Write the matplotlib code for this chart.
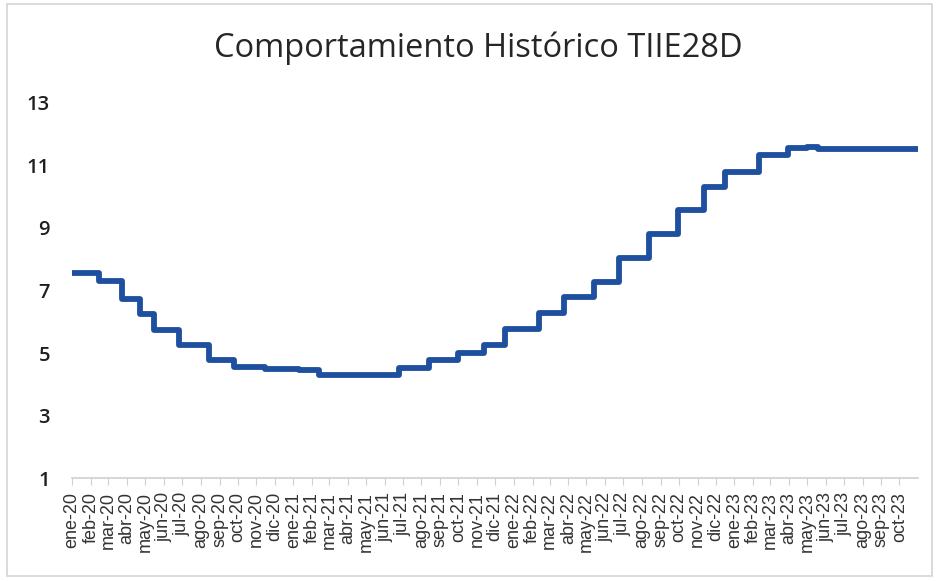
import matplotlib
matplotlib.use("Agg")
import matplotlib.pyplot as plt
from matplotlib.patches import Rectangle
import pandas as pd

# TIIE 28 dias: fecha de cambio y nivel vigente desde esa fecha (lectura de la grafica)
change_dates = ["2020-01-01", "2020-02-14", "2020-03-23", "2020-04-22", "2020-05-15",
                "2020-06-26", "2020-08-14", "2020-09-25", "2020-11-15", "2021-01-10",
                "2021-02-12", "2021-06-25", "2021-08-13", "2021-10-01", "2021-11-12",
                "2021-12-17", "2022-02-11", "2022-03-25", "2022-05-13", "2022-06-24",
                "2022-08-12", "2022-09-30", "2022-11-11", "2022-12-16", "2023-02-10",
                "2023-03-31", "2023-05-01", "2023-05-20", "2023-11-01"]
tiie = [7.56, 7.31, 6.72, 6.26, 5.74,
        5.25, 4.78, 4.56, 4.50, 4.47,
        4.29, 4.53, 4.78, 5.00, 5.26,
        5.76, 6.27, 6.78, 7.28, 8.05,
        8.80, 9.58, 10.30, 10.78, 11.32,
        11.57, 11.60, 11.53, 11.52]

month_names = ["ene", "feb", "mar", "abr", "may", "jun",
               "jul", "ago", "sep", "oct", "nov", "dic"]
tick_start = "2020-01-01"
tick_end = "2023-10-01"
y_ticks = [1, 3, 5, 7, 9, 11, 13]
title = "Comportamiento Histórico TIIE28D"

dates = pd.to_datetime(change_dates)
ticks = pd.date_range(tick_start, tick_end, freq="MS")
tick_labels = ["{}-{}".format(month_names[d.month - 1], str(d.year)[2:]) for d in ticks]

fig = plt.figure(figsize=(9.36, 5.81), dpi=100)
ax = fig.add_axes([0.077, 0.177, 0.904, 0.646])

ax.plot(dates, tiie, drawstyle="steps-post", color="#1f4f9f",
        linewidth=4.2, solid_capstyle="round", solid_joinstyle="round")

ax.set_xlim(pd.Timestamp("2020-01-01"), pd.Timestamp("2023-11-01"))
ax.set_ylim(1, 13)
ax.set_yticks(y_ticks)
ax.set_yticklabels([str(v) for v in y_ticks], fontsize=14.5, color="#1e1e1e",
                   family="Open Sans", fontweight="semibold")
ax.set_xticks(ticks)
ax.set_xticklabels(tick_labels, rotation=90, fontsize=13, color="#333333",
                   family="Liberation Sans")

for side in ["top", "right", "left"]:
    ax.spines[side].set_visible(False)
ax.spines["bottom"].set_color("#d0d0d0")
ax.spines["bottom"].set_linewidth(1.2)
ax.tick_params(axis="y", length=0, pad=16)
ax.tick_params(axis="x", length=5, color="#d0d0d0", pad=5)

fig.text(0.511, 0.917, title, ha="center", va="center", fontsize=23.5,
         family="Open Sans", color="#262626")

# marco del grafico
fig.patches.append(Rectangle((0.008, 0.008), 0.988, 0.985, transform=fig.transFigure,
                             fill=False, edgecolor="#d4d4d4", linewidth=1.2))

plt.savefig("out.png", dpi=100)
plt.close()
